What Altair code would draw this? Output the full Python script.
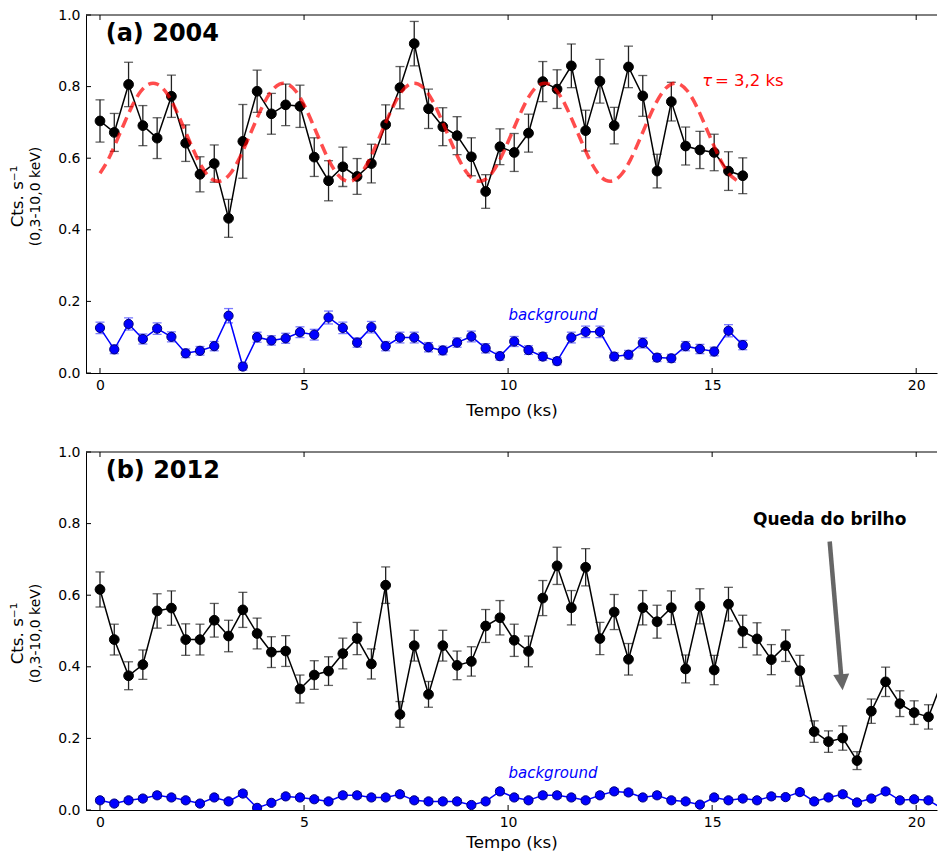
import altair as alt
import pandas as pd

FONT = "DejaVu Sans"
BIN_KS = 0.35  # bin width

# ---------------- Panel (a) 2004 ----------------
src_a = [0.704, 0.672, 0.806, 0.691, 0.656, 0.773, 0.642, 0.555, 0.585, 0.432,
         0.647, 0.787, 0.724, 0.749, 0.745, 0.603, 0.537, 0.576, 0.549, 0.585,
         0.694, 0.797, 0.920, 0.738, 0.688, 0.663, 0.604, 0.507, 0.632, 0.616,
         0.670, 0.814, 0.793, 0.858, 0.677, 0.815, 0.691, 0.855, 0.774, 0.564,
         0.758, 0.634, 0.623, 0.616, 0.564, 0.551]
err_a = [0.059, 0.053, 0.062, 0.056, 0.057, 0.059, 0.051, 0.049, 0.052, 0.053,
         0.103, 0.059, 0.057, 0.058, 0.059, 0.054, 0.056, 0.055, 0.050, 0.054,
         0.055, 0.059, 0.062, 0.055, 0.053, 0.053, 0.053, 0.047, 0.050, 0.053,
         0.053, 0.056, 0.054, 0.061, 0.057, 0.061, 0.051, 0.058, 0.057, 0.047,
         0.054, 0.053, 0.052, 0.051, 0.054, 0.050]
bkg_a = [0.126, 0.066, 0.137, 0.095, 0.124, 0.101, 0.055, 0.062, 0.075, 0.160,
         0.018, 0.100, 0.091, 0.097, 0.114, 0.107, 0.155, 0.126, 0.085, 0.128,
         0.075, 0.099, 0.099, 0.072, 0.063, 0.085, 0.102, 0.069, 0.047, 0.088,
         0.064, 0.046, 0.033, 0.099, 0.115, 0.115, 0.046, 0.051, 0.084, 0.043,
         0.041, 0.075, 0.067, 0.060, 0.118, 0.078]
bkg_err_a = [0.016, 0.012, 0.017, 0.014, 0.016, 0.014, 0.012, 0.012, 0.013, 0.020,
             0.010, 0.014, 0.013, 0.014, 0.015, 0.015, 0.018, 0.016, 0.013, 0.016,
             0.013, 0.015, 0.015, 0.013, 0.012, 0.013, 0.015, 0.013, 0.011, 0.014,
             0.012, 0.011, 0.010, 0.015, 0.016, 0.016, 0.011, 0.012, 0.014, 0.011,
             0.011, 0.013, 0.013, 0.012, 0.017, 0.013]

# dashed model curve (tau = 3,2 ks), read every 0.2 ks
model_v = [0.558, 0.596, 0.646, 0.699, 0.749, 0.787, 0.807, 0.807, 0.787, 0.749, 0.699, 0.646, 0.596, 0.558, 0.538, 0.538,
           0.558, 0.596, 0.646, 0.699, 0.749, 0.787, 0.807, 0.807, 0.787, 0.749, 0.699, 0.646, 0.596, 0.558, 0.538, 0.538,
           0.558, 0.596, 0.646, 0.699, 0.749, 0.787, 0.807, 0.807, 0.787, 0.749, 0.699, 0.646, 0.596, 0.558, 0.538, 0.538,
           0.558, 0.596, 0.646, 0.699, 0.749, 0.787, 0.807, 0.807, 0.787, 0.749, 0.699, 0.646, 0.596, 0.558, 0.538, 0.538,
           0.558, 0.596, 0.646, 0.699, 0.749, 0.787, 0.807, 0.807, 0.787, 0.749, 0.699, 0.646, 0.596, 0.558, 0.538]
model_t = [round(i * 0.2, 1) for i in range(len(model_v))]

# ---------------- Panel (b) 2012 ----------------
src_b = [0.616, 0.476, 0.375, 0.406, 0.556, 0.564, 0.476, 0.476, 0.530, 0.486,
         0.559, 0.493, 0.441, 0.444, 0.338, 0.377, 0.388, 0.437, 0.479, 0.408,
         0.628, 0.267, 0.459, 0.323, 0.459, 0.404, 0.415, 0.514, 0.537, 0.474,
         0.443, 0.592, 0.682, 0.565, 0.678, 0.479, 0.553, 0.421, 0.565, 0.526,
         0.565, 0.394, 0.569, 0.391, 0.575, 0.499, 0.478, 0.420, 0.459, 0.389,
         0.219, 0.191, 0.201, 0.138, 0.276, 0.358, 0.297, 0.272, 0.260, 0.364]
err_b = [0.049, 0.043, 0.039, 0.041, 0.048, 0.048, 0.044, 0.043, 0.047, 0.044,
         0.049, 0.043, 0.043, 0.043, 0.039, 0.040, 0.040, 0.043, 0.045, 0.042,
         0.051, 0.036, 0.043, 0.036, 0.043, 0.040, 0.041, 0.046, 0.048, 0.045,
         0.043, 0.049, 0.052, 0.048, 0.052, 0.045, 0.049, 0.044, 0.048, 0.046,
         0.047, 0.039, 0.049, 0.041, 0.047, 0.045, 0.045, 0.042, 0.044, 0.043,
         0.030, 0.030, 0.034, 0.025, 0.034, 0.041, 0.036, 0.033, 0.034, 0.117]
bkg_b = [0.027, 0.018, 0.027, 0.032, 0.041, 0.035, 0.027, 0.018, 0.035, 0.024,
         0.046, 0.006, 0.020, 0.038, 0.035, 0.030, 0.024, 0.041, 0.041, 0.035,
         0.035, 0.044, 0.027, 0.024, 0.024, 0.024, 0.014, 0.024, 0.052, 0.035,
         0.027, 0.041, 0.041, 0.035, 0.027, 0.041, 0.052, 0.049, 0.035, 0.041,
         0.027, 0.024, 0.015, 0.035, 0.027, 0.032, 0.027, 0.038, 0.036, 0.050,
         0.024, 0.035, 0.044, 0.021, 0.032, 0.052, 0.027, 0.030, 0.027, 0.004]
bkg_err_b = [0.007, 0.006, 0.007, 0.007, 0.008, 0.007, 0.007, 0.006, 0.007, 0.007,
             0.008, 0.005, 0.006, 0.007, 0.007, 0.007, 0.007, 0.008, 0.008, 0.007,
             0.007, 0.008, 0.007, 0.007, 0.007, 0.007, 0.006, 0.007, 0.008, 0.007,
             0.007, 0.008, 0.008, 0.007, 0.007, 0.008, 0.008, 0.008, 0.007, 0.008,
             0.007, 0.007, 0.006, 0.007, 0.007, 0.007, 0.007, 0.008, 0.007, 0.008,
             0.007, 0.007, 0.008, 0.006, 0.007, 0.008, 0.007, 0.007, 0.007, 0.005]

tempo_a = [round(i * BIN_KS, 2) for i in range(len(src_a))]
tempo_b = [round(i * BIN_KS, 2) for i in range(len(src_b))]

x_ticks = [0, 5, 10, 15, 20]
y_ticks = [0.0, 0.2, 0.4, 0.6, 0.8, 1.0]

# annotations
bg_label_a = {"t": 11.1, "v": 0.149}
bg_label_b = {"t": 11.1, "v": 0.089}
tau_pos = {"t": 14.76, "v": 0.8025}
tau_rest_pos = {"t": 15.07, "v": 0.8025}
queda_pos = {"t": 17.88, "v": 0.797}
arrow_tail = {"t": 17.88, "v": 0.75}
arrow_neck = {"t": 18.165, "v": 0.37}
arrow_head = {"t": 18.18, "v": 0.357}

W, H = 851, 358
PX_PER_KS = 40.81
XMIN = -0.343
XDOM = [XMIN, XMIN + W / PX_PER_KS]

xscale = alt.Scale(domain=XDOM, nice=False, zero=False)
yscale = alt.Scale(domain=[0, 1], nice=False, zero=False)
yaxis = alt.Axis(values=y_ticks, format=".1f", title=None, ticks=False, grid=False,
                 labelPadding=6, domainColor="black", domainWidth=1, labelFlush=False)


def make_xaxis(title_pad, label_pad):
    return alt.Axis(values=x_ticks, format="d", title="Tempo (ks)", ticks=False, grid=False,
                    labelPadding=label_pad, titlePadding=title_pad, domainColor="black",
                    domainWidth=1, labelFlush=False)


def builders(xaxis):
    def X(f):
        return alt.X(f"{f}:Q", scale=xscale, axis=xaxis)

    def Y(f):
        return alt.Y(f"{f}:Q", scale=yscale, axis=yaxis)
    return X, Y


def series(X, Y, t, v, e, color, bar_color, size, stroke):
    df = pd.DataFrame({"t": t, "v": v,
                       "lo": [a - b for a, b in zip(v, e)],
                       "hi": [a + b for a, b in zip(v, e)]})
    base = alt.Chart(df)
    bars = base.mark_rule(color=bar_color, strokeWidth=1.3, clip=True).encode(x=X("t"), y=Y("lo"), y2="hi")
    cap_lo = base.mark_tick(orient="horizontal", color=bar_color, size=9, thickness=1.3, clip=True).encode(
        x=X("t"), y=Y("lo"))
    cap_hi = base.mark_tick(orient="horizontal", color=bar_color, size=9, thickness=1.3, clip=True).encode(
        x=X("t"), y=Y("hi"))
    line = base.mark_line(color=color, strokeWidth=1.5, clip=True).encode(x=X("t"), y=Y("v"))
    pts = base.mark_circle(size=size, fill=color, stroke=stroke, strokeWidth=1, opacity=1, clip=True).encode(
        x=X("t"), y=Y("v"))
    return [bars, cap_lo, cap_hi, line, pts]


def frame(X, Y):
    dxt = pd.DataFrame({"t": x_ticks})
    dyt = pd.DataFrame({"v": y_ticks})
    top = alt.Chart(pd.DataFrame({"k": [0]})).mark_rule(color="black", strokeWidth=1).encode(
        x=alt.value(0), x2=alt.value(W), y=alt.value(0))
    tb = alt.Chart(dxt).mark_rule(color="black", strokeWidth=1).encode(x=X("t"), y=alt.value(H), y2=alt.value(H - 5))
    tt = alt.Chart(dxt).mark_rule(color="black", strokeWidth=1).encode(x=X("t"), y=alt.value(0), y2=alt.value(5))
    tl = alt.Chart(dyt).mark_rule(color="black", strokeWidth=1).encode(y=Y("v"), x=alt.value(0), x2=alt.value(5))
    return [top, tb, tt, tl]


def ytitle():
    l1 = alt.Chart(pd.DataFrame({"label": ["Cts. s\u207b\u00b9"]})).mark_text(
        angle=270, fontSize=16.7, align="center", baseline="middle", color="black").encode(
        x=alt.value(-68), y=alt.value(181.5), text="label:N")
    l2 = alt.Chart(pd.DataFrame({"label": ["(0,3-10,0 keV)"]})).mark_text(
        angle=270, fontSize=14, align="center", baseline="middle", color="black").encode(
        x=alt.value(-50), y=alt.value(181.5), text="label:N")
    return [l1, l2]


def panel_label(txt):
    return alt.Chart(pd.DataFrame({"label": [txt]})).mark_text(
        fontSize=24, fontWeight="bold", align="left", baseline="alphabetic", color="black").encode(
        x=alt.value(19.7), y=alt.value(25.7), text="label:N")


def data_text(X, Y, pos, txt, **kw):
    d = pd.DataFrame({"t": [pos["t"]], "v": [pos["v"]], "label": [txt]})
    return alt.Chart(d).mark_text(**kw).encode(x=X("t"), y=Y("v"), text="label:N")


# ---- panel a ----
Xa, Ya = builders(make_xaxis(10, 5))
model_df = pd.DataFrame({"t": model_t, "v": model_v})
model = alt.Chart(model_df).mark_line(color="red", opacity=0.7, strokeWidth=3.5, strokeDash=[11, 6],
                                      interpolate="natural").encode(x=Xa("t"), y=Ya("v"))

layers_a = frame(Xa, Ya) \
    + series(Xa, Ya, tempo_a, bkg_a, bkg_err_a, "#0000ff", "#4444ff", 85, "#00007a") \
    + series(Xa, Ya, tempo_a, src_a, err_a, "black", "#222222", 95, "black") + [model] + [
    panel_label("(a) 2004"),
    data_text(Xa, Ya, bg_label_a, "background", fontSize=15, fontStyle="italic", color="#0000ff",
              align="center", baseline="alphabetic"),
    data_text(Xa, Ya, tau_pos, "\u03c4", fontSize=16.5, fontStyle="italic", color="red",
              align="left", baseline="alphabetic"),
    data_text(Xa, Ya, tau_rest_pos, "= 3,2 ks", fontSize=16.5, color="red", align="left",
              baseline="alphabetic"),
] + ytitle()
panel_a = alt.layer(*layers_a).properties(width=W, height=H)

# ---- panel b ----
Xb, Yb = builders(make_xaxis(5, 5))
shaft = alt.Chart(pd.DataFrame({"t": [arrow_tail["t"]], "v": [arrow_tail["v"]],
                                "t2": [arrow_neck["t"]], "v2": [arrow_neck["v"]]})).mark_rule(
    color="#666666", strokeWidth=4.5).encode(x=Xb("t"), y=Yb("v"), x2="t2", y2="v2")
head = alt.Chart(pd.DataFrame({"t": [arrow_head["t"]], "v": [arrow_head["v"]]})).mark_point(
    shape="M-1,-1L1,-1L0,1Z", size=256, angle=355, filled=True, fill="#666666", opacity=1,
    strokeWidth=0).encode(x=Xb("t"), y=Yb("v"))

layers_b = frame(Xb, Yb) \
    + series(Xb, Yb, tempo_b, bkg_b, bkg_err_b, "#0000ff", "#4444ff", 85, "#00007a") \
    + series(Xb, Yb, tempo_b, src_b, err_b, "black", "#222222", 95, "black") + [
    panel_label("(b) 2012"),
    data_text(Xb, Yb, bg_label_b, "background", fontSize=15, fontStyle="italic", color="#0000ff",
              align="center", baseline="alphabetic"),
    data_text(Xb, Yb, queda_pos, "Queda do brilho", fontSize=17, fontWeight="bold", color="black",
              align="center", baseline="alphabetic"),
    shaft, head,
] + ytitle()
panel_b = alt.layer(*layers_b).properties(width=W, height=H)

chart = alt.vconcat(panel_a, panel_b, spacing=26).properties(
    padding={"left": 2, "top": 0, "right": 0, "bottom": 0}
).configure_view(strokeWidth=0).configure_axis(
    labelFont=FONT, labelFontSize=14, titleFont=FONT, titleFontSize=16.7,
    titleFontWeight="normal", labelColor="black", titleColor="black"
).configure_text(font=FONT)

chart.save("out.html", embed_options={"renderer": "svg", "actions": False})
